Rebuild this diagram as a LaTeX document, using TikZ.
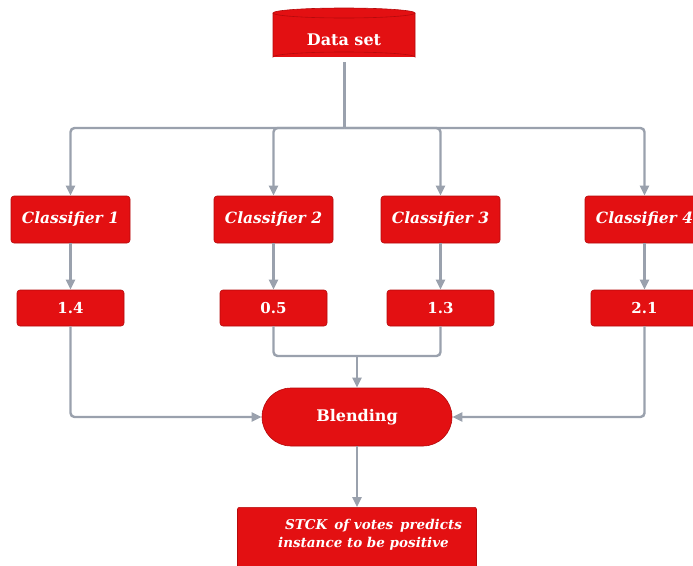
\documentclass[tikz,border=0pt]{standalone}
\usepackage{fontspec}
\setmainfont{DejaVu Serif}
\usetikzlibrary{arrows.meta}
\definecolor{boxred}{HTML}{E31012}
\definecolor{boxedge}{HTML}{B50A0C}
\definecolor{wire}{HTML}{9AA1AD}
\tikzset{
  redbox/.style={draw=boxedge, line width=0.6pt, fill=boxred, rounded corners=3pt,
    text=white, font=\bfseries, inner sep=0pt},
  clsbox/.style={redbox, minimum width=119pt, minimum height=47pt, font=\fontsize{15.5}{18}\selectfont\bfseries\itshape},
  valbox/.style={redbox, minimum width=107pt, minimum height=36pt, font=\fontsize{15}{17}\selectfont\bfseries},
  wireline/.style={draw=wire, line width=2.4pt},
  wirearrow/.style={wireline, -{Triangle[length=10pt, width=9pt]}},
}
\begin{document}
\begin{tikzpicture}[x=1pt, y=-1pt]
\useasboundingbox (0,0) rectangle (693,565);
\clip (0,0) rectangle (693,565);

% data set cylinder
\fill[boxred] (273,13) rectangle (415,57);
\draw[boxedge, line width=0.6pt, fill=boxred]
  (273,13) -- (273,57) arc[start angle=180, end angle=360, x radius=71, y radius=5] -- (415,13);
\draw[boxedge, line width=0.6pt, fill=boxred] (344,13) ellipse [x radius=71, y radius=5];
\node[minimum width=142pt, minimum height=44pt, inner sep=0pt, text=white,
  font=\fontsize{16}{18}\selectfont\bfseries] (data) at (344,40) {Data set};
\coordinate (datafoot) at (344.5,62);

% classifiers
\node[clsbox] (c1) at (70.5,219.5) {Classifier 1};
\node[clsbox] (c2) at (273.5,219.5) {Classifier 2};
\node[clsbox] (c3) at (440.5,219.5) {Classifier 3};
\node[clsbox] (c4) at (644.5,219.5) {Classifier 4};

% classifier outputs
\node[valbox] (v1) at (70.5,308) {1.4};
\node[valbox] (v2) at (273.5,308) {0.5};
\node[valbox] (v3) at (440.5,308) {1.3};
\node[valbox] (v4) at (644.5,308) {2.1};

% blending stage
\node[redbox, rounded corners=29pt, minimum width=190pt, minimum height=58pt,
  font=\fontsize{16}{18}\selectfont\bfseries] (blend) at (357,417) {Blending};

% final decision
\node[redbox, rounded corners=2pt, minimum width=239pt, minimum height=80pt, anchor=north] (out) at (357,507) {};
\node[text=white, font=\fontsize{13.5}{18}\selectfont\bfseries\itshape, align=left,
  anchor=north west, inner sep=0pt] (outtext) at (278,519)
  {\hspace*{7pt}STCK\, of votes\, predicts\\instance to be positive};

% wiring: data set to classifiers
\coordinate (bus) at (344.5,128);
\draw[wireline] (datafoot) -- (bus);
\draw[wirearrow, rounded corners=4pt] (bus) -| (c1.north);
\draw[wirearrow, rounded corners=4pt] (bus) -| (c2.north);
\draw[wirearrow, rounded corners=4pt] (bus) -| (c3.north);
\draw[wirearrow, rounded corners=4pt] (bus) -| (c4.north);

% classifiers to their outputs
\draw[wirearrow] (c1.south) -- (v1.north);
\draw[wirearrow] (c2.south) -- (v2.north);
\draw[wirearrow] (c3.south) -- (v3.north);
\draw[wirearrow] (c4.south) -- (v4.north);

% outputs into blending
\coordinate (join) at (blend.north |- 0,356);
\draw[wireline, rounded corners=4pt] (v2.south) |- (join) -| (v3.south);
\draw[wirearrow] (join) -- (blend.north);
\draw[wirearrow, rounded corners=4pt] (v1.south) |- (blend.west);
\draw[wirearrow, rounded corners=4pt] (v4.south) |- (blend.east);

% blending to decision
\draw[wirearrow] (blend.south) -- (out.north);
\end{tikzpicture}
\end{document}
